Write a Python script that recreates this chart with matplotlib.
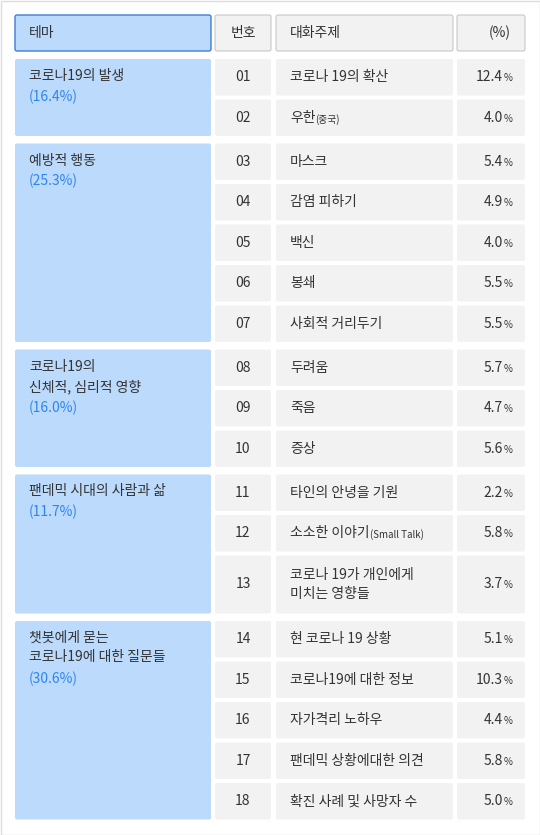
import matplotlib
matplotlib.use('Agg')
import matplotlib.pyplot as plt
from matplotlib.patches import FancyBboxPatch

plt.rcParams['font.family'] = ['Noto Sans CJK KR', 'DejaVu Sans']

# data
headers = ['테마', '번호', '대화주제', '(%)']
themes = ['코로나19의 발생', '예방적 행동', '코로나19의\n신체적, 심리적 영향', '팬데믹 시대의 사람과 삶',
          '챗봇에게 묻는\n코로나19에 대한 질문들']
theme_pct = ['(16.4%)', '(25.3%)', '(16.0%)', '(11.7%)', '(30.6%)']
theme_sizes = [2, 5, 3, 3, 5]
numbers = ['01', '02', '03', '04', '05', '06', '07', '08', '09', '10',
           '11', '12', '13', '14', '15', '16', '17', '18']
topics = ['코로나 19의 확산', '우한', '마스크', '감염 피하기', '백신', '봉쇄', '사회적 거리두기',
          '두려움', '죽음', '증상', '타인의 안녕을 기원', '소소한 이야기',
          '코로나 19가 개인에게\n미치는 영향들', '현 코로나 19 상황', '코로나19에 대한 정보',
          '자가격리 노하우', '팬데믹 상황에대한 의견', '확진 사례 및 사망자 수']
topic_suffix = {1: '(중국)', 11: '(Small Talk)'}
pcts = [12.4, 4.0, 5.4, 4.9, 4.0, 5.5, 5.5, 5.7, 4.7, 5.6, 2.2, 5.8, 3.7, 5.1, 10.3, 4.4, 5.8, 5.0]

W, H = 540, 835
fig = plt.figure(figsize=(W / 100, H / 100), dpi=100)
ax = fig.add_axes([0, 0, 1, 1])
ax.set_xlim(0, W)
ax.set_ylim(H, 0)
ax.axis('off')
ax.add_patch(plt.Rectangle((0.5, 0.5), W - 1, H - 1, fill=False, ec='#dddddd', lw=1))

cols = [(15, 211), (215, 271), (276, 453), (457, 525)]
blue = '#bcdafb'
gray = '#f2f2f2'
txt = '#333333'
accent = '#2f86f0'
fs = 10


def box(x0, x1, y0, y1, fc, ec='none', lw=0):
    ax.add_patch(FancyBboxPatch((x0, y0), x1 - x0, y1 - y0, boxstyle='round,pad=0,rounding_size=2',
                                fc=fc, ec=ec, lw=lw))


# header
hy0, hy1 = 15, 51
for i, (x0, x1) in enumerate(cols):
    if i == 0:
        box(x0, x1, hy0, hy1, blue, '#3b7fd6', 1)
    else:
        box(x0, x1, hy0, hy1, gray, '#c8c8c8', 0.8)
hyc = (hy0 + hy1) / 2
ax.text(cols[0][0] + 14, hyc, headers[0], fontsize=fs, color=txt, va='center')
ax.text(sum(cols[1]) / 2, hyc, headers[1], fontsize=fs, color=txt, va='center', ha='center')
ax.text(cols[2][0] + 14, hyc, headers[2], fontsize=fs, color=txt, va='center')
ax.text(cols[3][1] - 14, hyc, headers[3], fontsize=fs, color=txt, va='center', ha='right')

# rows
row_h = 36.5
gap_row = 4
gap_grp = 7.5
y = 59
k = 0
for g, n in enumerate(theme_sizes):
    gy0 = y
    for j in range(n):
        h = row_h
        if k == 12:
            h = 58
        y0, y1 = y, y + h
        yc = (y0 + y1) / 2
        box(*cols[1], y0, y1, gray)
        box(*cols[2], y0, y1, gray)
        box(*cols[3], y0, y1, gray)
        ax.text(sum(cols[1]) / 2, yc, numbers[k], fontsize=fs, color=txt, va='center', ha='center',
                fontweight='medium')
        t = ax.text(cols[2][0] + 14, yc, topics[k], fontsize=fs, color=txt, va='center',
                    linespacing=1.5)
        if k in topic_suffix:
            ax.annotate(topic_suffix[k], xycoords=t, xy=(1, 0.5), va='center', fontsize=7,
                        color=txt, xytext=(0, -1), textcoords='offset points')
        ax.text(cols[3][1] - 22, yc, f'{pcts[k]:.1f}', fontsize=fs, color=txt, va='center',
                ha='right')
        ax.text(cols[3][1] - 21, yc + 1, '%', fontsize=7, color=txt, va='center', ha='left')
        y = y1 + gap_row
        k += 1
    gy1 = y - gap_row
    box(*cols[0], gy0, gy1, blue)
    lines = themes[g].count('\n') + 1
    ax.text(cols[0][0] + 14, gy0 + 10, themes[g], fontsize=fs, color=txt, va='top', linespacing=1.5)
    ax.text(cols[0][0] + 14, gy0 + 10 + lines * 20.5, theme_pct[g], fontsize=fs, color=accent,
            va='top')
    y = gy1 + gap_grp

fig.savefig('out.png', dpi=100)
